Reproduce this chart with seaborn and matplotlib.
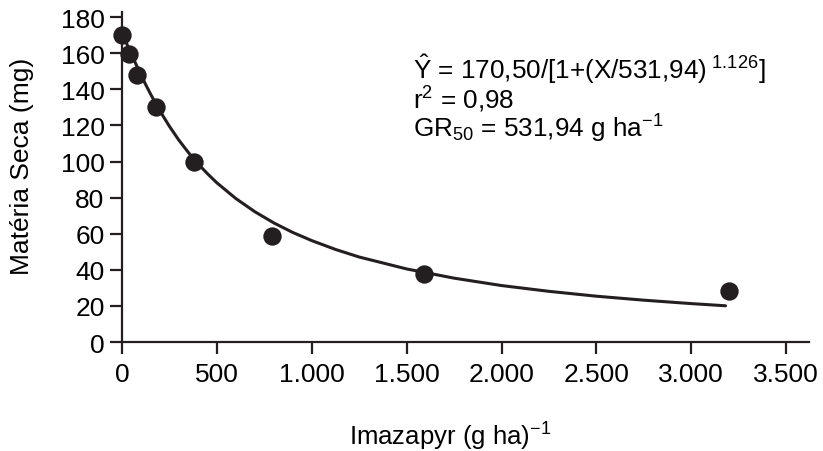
import numpy as np
import pandas as pd
import matplotlib
matplotlib.use("Agg")
import matplotlib.pyplot as plt
import seaborn as sns

dose = [0, 37, 80, 180, 380, 790, 1590, 3200]
dry_mass = [170, 159.5, 148, 130, 99.8, 58.5, 37.5, 28.5]

# Fitted curve
curve_x = [0, 5, 10, 20, 30, 40, 50, 60, 75, 100, 125, 150, 175, 200, 250, 300,
           350, 400, 450, 500, 600, 700, 800, 900, 1000, 1125, 1250, 1500, 1750,
           2000, 2250, 2500, 2750, 3000, 3180]
curve_y = [170.5, 169.6, 168.6, 166.4, 164.1, 161.7, 159.4, 157.0, 153.6, 148.0,
           142.6, 137.5, 132.6, 128.0, 119.5, 111.8, 105.0, 98.8, 93.3, 88.2,
           79.5, 72.2, 66.0, 60.7, 56.2, 51.3, 47.1, 40.5, 35.4, 31.3, 28.1,
           25.4, 23.2, 21.3, 20.1]

x_ticks = [0, 500, 1000, 1500, 2000, 2500, 3000, 3500]
x_tick_labels = ["0", "500", "1.000", "1.500", "2.000", "2.500", "3.000", "3.500"]
y_ticks = list(range(0, 181, 20))

sns.set_theme(style="ticks")
plt.rcParams["font.family"] = ["Liberation Sans", "DejaVu Sans"]
plt.rcParams["mathtext.fontset"] = "custom"
plt.rcParams["mathtext.rm"] = "Liberation Sans"
plt.rcParams["mathtext.it"] = "Liberation Sans"
plt.rcParams["mathtext.bf"] = "Liberation Sans"

ink = "#231f20"

fig = plt.figure(figsize=(8.23, 4.52), dpi=100)
ax = fig.add_axes([0.1482, 0.241, 0.983 - 0.1482, 0.972 - 0.241])

df_pts = pd.DataFrame({"dose": dose, "ms": dry_mass})
df_curve = pd.DataFrame({"dose": curve_x, "ms": curve_y})

sns.lineplot(data=df_curve, x="dose", y="ms", ax=ax, color=ink, linewidth=2.2,
             zorder=2)
sns.scatterplot(data=df_pts, x="dose", y="ms", ax=ax, color=ink, s=175,
                edgecolor=ink, linewidth=0, zorder=3, clip_on=False)

ax.set_xlim(0, 3620)
ax.set_ylim(0, 183)
ax.set_xticks(x_ticks)
ax.set_xticklabels(x_tick_labels)
ax.set_yticks(y_ticks)

for side in ["top", "right"]:
    ax.spines[side].set_visible(False)
for side in ["left", "bottom"]:
    ax.spines[side].set_color(ink)
    ax.spines[side].set_linewidth(1.6)

ax.tick_params(axis="both", direction="out", length=8.5, width=1.6,
               color=ink, labelcolor="black", labelsize=19)
ax.tick_params(axis="y", pad=4)
ax.tick_params(axis="x", pad=6)

ax.set_xlabel(r"Imazapyr (g ha)$^{\mathregular{-1}}$", fontsize=18.5, color="black")
ax.xaxis.set_label_coords(0.478, -0.235)
ax.set_ylabel("Matéria Seca (mg)", fontsize=19, color="black")
ax.yaxis.set_label_coords(-0.128, 0.535)

tx = 1534
fs = 18.8
ax.text(tx, 152, r"$\hat{\mathregular{Y}}$ = 170,50/[1+(X/531,94)$^{\mathregular{\ 1.126}}$]",
        fontsize=fs, va="center", ha="left", color="black")
ax.text(tx, 134.5, r"r$^{\mathregular{2}}$ = 0,98", fontsize=fs, va="center",
        ha="left", color="black")
ax.text(tx, 118.5, r"GR$_{\mathregular{50}}$ = 531,94 g ha$^{\mathregular{-1}}$",
        fontsize=fs, va="center", ha="left", color="black")

fig.savefig("out.png", dpi=100)
